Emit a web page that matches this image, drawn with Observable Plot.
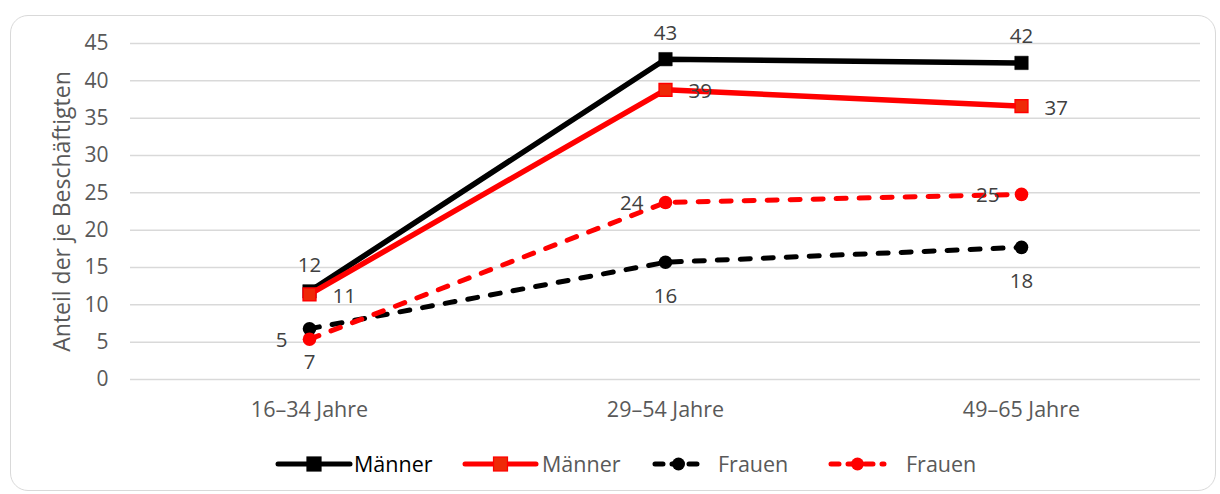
<!DOCTYPE html>
<html><head><meta charset="utf-8">
<script src="https://cdn.jsdelivr.net/npm/d3@7"></script>
<script src="https://cdn.jsdelivr.net/npm/@observablehq/plot@0.6"></script>
<style>
body{margin:0;background:#fff;font-family:"Open Sans",sans-serif;}
#frame{position:absolute;left:10px;top:15px;width:1206px;height:476px;border:1.5px solid #d9d9d9;border-radius:18px;box-sizing:border-box}
#chart{position:absolute;left:0;top:0}
#legend{position:absolute;top:448px;left:0}
</style></head><body>
<div id="frame"></div><div id="chart"></div><div id="legend"></div>
<script>
const categories = ["16–34 Jahre", "29–54 Jahre", "49–65 Jahre"];
const maennerBlack = [11.8, 42.9, 42.4];
const maennerRed = [11.4, 38.8, 36.6];
const frauenBlack = [6.8, 15.7, 17.7];
const frauenRed = [5.4, 23.7, 24.8];
const legendLabels = ["Männer", "Männer", "Frauen", "Frauen"];
const yTicks = [0, 5, 10, 15, 20, 25, 30, 35, 40, 45];
const yTitle = "Anteil der je Beschäftigten";

const toRows = (vals) => categories.map((c, i) => ({cat: c, v: vals[i], label: d3.format(".0f")(vals[i])}));
const mb = toRows(maennerBlack), mr = toRows(maennerRed), fb = toRows(frauenBlack), fr = toRows(frauenRed);

const RED = "#ff0000";
const SQFILL = "#ee2a08";
const lblStyle = {fontSize: 20.5, fill: "#404040"};

const chart = Plot.plot({
  width: 1220, height: 430,
  marginLeft: 130, marginRight: 20, marginTop: 43, marginBottom: 51,
  style: "font-family:'Open Sans';font-size:17px;background:transparent;overflow:visible",
  x: {type: "point", domain: categories, padding: 0.5},
  y: {domain: [0, 45]},
  marks: [
    Plot.gridY(yTicks, {stroke: "#d9d9d9", strokeOpacity: 1, strokeWidth: 1.5}),
    Plot.axisY(yTicks, {tickSize: 0, tickPadding: 22, fontSize: 21, fill: "#595959", label: null}),
    Plot.axisX({tickSize: 0, tickPadding: 22, fontSize: 21.5, fill: "#595959", label: null}),
    Plot.text([yTitle], {frameAnchor: "left", textAnchor: "middle", rotate: -90, dx: -68, fontSize: 23, fill: "#595959"}),
    // Männer (black, solid)
    Plot.line(mb, {x: "cat", y: "v", stroke: "black", strokeWidth: 5.5}),
    Plot.dot(mb, {x: "cat", y: "v", symbol: "square", r: 7.6, fill: "black", stroke: "black", strokeWidth: 0.5}),
    // Männer (red, solid)
    Plot.line(mr, {x: "cat", y: "v", stroke: RED, strokeWidth: 5.5}),
    Plot.dot(mr, {x: "cat", y: "v", symbol: "square", r: 7.2, fill: SQFILL, stroke: RED, strokeWidth: 1.5}),
    // Frauen (black, dashed)
    Plot.line(fb, {x: "cat", y: "v", stroke: "black", strokeWidth: 5, strokeDasharray: "10,13", strokeLinecap: "round"}),
    Plot.dot(fb, {x: "cat", y: "v", r: 6.8, fill: "black"}),
    // Frauen (red, dashed)
    Plot.line(fr, {x: "cat", y: "v", stroke: RED, strokeWidth: 5, strokeDasharray: "10,13", strokeLinecap: "round"}),
    Plot.dot(fr, {x: "cat", y: "v", r: 6.8, fill: RED}),
    // data labels
    Plot.text(mb, {x: "cat", y: "v", text: "label", dy: -26, ...lblStyle}),
    Plot.text(mr, {x: "cat", y: "v", text: "label", dx: 23, dy: 2, textAnchor: "start", ...lblStyle}),
    Plot.text(fb, {x: "cat", y: "v", text: "label", dy: 34, ...lblStyle}),
    Plot.text(fr, {x: "cat", y: "v", text: "label", dx: -22, dy: 1, textAnchor: "end", ...lblStyle})
  ]
});
document.getElementById("chart").appendChild(chart);

// legend
const leg = d3.select("#legend").append("svg").attr("width", 1220).attr("height", 34)
  .style("font-family", "Open Sans");
const items = [
  {x0: 278, x1: 350, color: "black", dash: null, sym: "square", sqFill: "black", text: legendLabels[0], tx: 354, tc: "#000"},
  {x0: 465, x1: 536, color: RED, dash: null, sym: "square", sqFill: SQFILL, text: legendLabels[1], tx: 542, tc: "#595959"},
  {x0: 655, x1: 702, color: "black", dash: "8,9", sym: "circle", text: legendLabels[2], tx: 718, tc: "#595959"},
  {x0: 831, x1: 884, color: RED, dash: "8,9", sym: "circle", text: legendLabels[3], tx: 906, tc: "#595959"}
];
const cy = 16;
for (const it of items) {
  const l = leg.append("line").attr("x1", it.x0).attr("x2", it.x1).attr("y1", cy).attr("y2", cy)
    .attr("stroke", it.color).attr("stroke-width", 5).attr("stroke-linecap", "round");
  if (it.dash) l.attr("stroke-dasharray", it.dash);
  const mx = (it.x0 + it.x1) / 2;
  if (it.sym === "square") {
    leg.append("rect").attr("x", mx - 7).attr("y", cy - 7).attr("width", 14).attr("height", 14)
      .attr("fill", it.sqFill).attr("stroke", it.color).attr("stroke-width", 1.2);
  } else {
    leg.append("circle").attr("cx", mx).attr("cy", cy).attr("r", 6.5).attr("fill", it.color);
  }
  leg.append("text").attr("x", it.tx).attr("y", cy).attr("dy", "0.35em").attr("font-size", 21.5)
    .attr("fill", it.tc).text(it.text);
}
</script>
</body></html>
